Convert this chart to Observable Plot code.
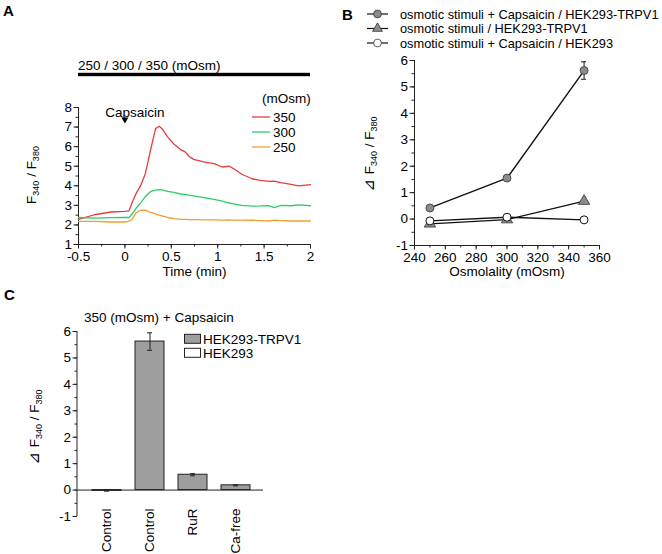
<!DOCTYPE html>
<html><head><meta charset="utf-8">
<script src="https://cdn.jsdelivr.net/npm/d3@7"></script>
<script src="https://cdn.jsdelivr.net/npm/@observablehq/plot@0.6"></script>
<style>
body{margin:0;background:#fff;}
#fig{position:relative;width:662px;height:554px;font-family:"Liberation Sans",Arial,"DejaVu Sans",sans-serif;}
</style></head><body><div id="fig"></div>
<script>
// ---------- Panel A data: F340/F380 time course ----------
const timeA = [-0.5,-0.33,-0.15,0,0.045,0.08,0.12,0.17,0.22,0.28,0.33,0.37,0.40,0.46,0.53,0.60,0.65,0.69,0.74,0.85,0.96,1.05,1.12,1.17,1.26,1.37,1.46,1.55,1.61,1.68,1.79,1.87,2.0];
const ratio350 = [2.28,2.52,2.66,2.69,2.72,3.17,3.6,4.02,4.62,5.9,6.92,7.04,6.92,6.5,6.12,5.85,5.73,5.51,5.35,5.22,5.13,4.96,5.01,4.88,4.59,4.36,4.28,4.23,4.24,4.16,4.07,4.0,4.06];
const ratio300 = [2.38,2.35,2.37,2.38,2.38,2.57,2.85,3.13,3.45,3.72,3.78,3.80,3.79,3.72,3.66,3.58,3.56,3.52,3.48,3.40,3.30,3.22,3.12,3.08,3.0,2.96,2.97,2.99,2.88,3.0,2.98,3.02,2.98];
const ratio250 = [2.18,2.18,2.15,2.15,2.18,2.31,2.62,2.75,2.76,2.64,2.57,2.5,2.46,2.38,2.32,2.28,2.28,2.27,2.27,2.26,2.26,2.25,2.26,2.25,2.25,2.24,2.22,2.2,2.24,2.22,2.2,2.21,2.2];
const seriesA = ["350","300","250"];
const colorsA = ["#e53d3d","#2ecc66","#f0a030"];
const xDomA = [-0.5, 2];
const yDomA = [1, 8];
const stimTime = 0;
const stimLabel = "Capsaicin";
const titleA = "250 / 300 / 350 (mOsm)";

// ---------- Panel B data ----------
const osmB = [250, 300, 350];
const capTRPV1 = [0.42, 1.55, 5.62];
const capTRPV1Err = [0.04, 0.05, 0.33];
const osmOnlyTRPV1 = [-0.18, -0.02, 0.68];
const capHEK = [-0.07, 0.07, -0.03];
const legendB = ["osmotic stimuli + Capsaicin / HEK293-TRPV1", "osmotic stimuli / HEK293-TRPV1", "osmotic stimuli + Capsaicin / HEK293"];
const xDomB = [240, 360];
const yDomB = [-1, 6];

// ---------- Panel C data ----------
const condC = ["Control", "Control", "RuR", "Ca-free"];
const cellC = ["HEK293", "HEK293-TRPV1", "HEK293-TRPV1", "HEK293-TRPV1"];
const valC = [-0.03, 5.62, 0.58, 0.18];
const errC = [0.01, 0.33, 0.04, 0.02];
const cellTypes = ["HEK293-TRPV1", "HEK293"];
const cellFills = ["#9e9e9e", "#ffffff"];
const yDomC = [-1, 6];
const titleC = "350 (mOsm) + Capsaicin";

const FONT = "'Liberation Sans', Arial, 'DejaVu Sans', sans-serif";
const baseStyle = {fontFamily: FONT, fontSize: "13px", color: "#000", background: "transparent", overflow: "visible"};
const TICKFS = 13.5;
const fig = document.getElementById("fig");
const fmt = d => String(+d.toFixed(2));

function place(svg, left, top) {
  svg.style.position = "absolute";
  svg.style.left = left + "px";
  svg.style.top = top + "px";
  fig.appendChild(svg);
  return d3.select(svg).append("g").attr("text-anchor", "start").attr("font-size", 13).attr("fill", "#000");
}
function yLabel(sel, x, y) {
  return sel.append("text").attr("transform", `translate(${x},${y}) rotate(-90)`)
    .attr("text-anchor", "middle").attr("font-size", 13.5).attr("fill", "#000");
}
function addRatioLabel(t, delta) {
  if (delta) t.append("tspan").attr("font-family", "'DejaVu Sans', sans-serif").attr("font-style","italic").attr("font-size", 15).text("⊿ ");
  t.append("tspan").text("F");
  t.append("tspan").attr("font-size", 9).attr("dy", 3).text("340");
  t.append("tspan").attr("dy", -3).text(" / F");
  t.append("tspan").attr("font-size", 9).attr("dy", 3).text("380");
}
function letter(sel, x, y, s) {
  sel.append("text").attr("x", x).attr("y", y).attr("font-size", 15).attr("font-weight", "bold").attr("text-anchor", "start").text(s);
}
function txt(sel, x, y, s) {
  return sel.append("text").attr("x", x).attr("y", y).attr("text-anchor", "start").attr("font-size", 13).text(s);
}

// ================= Panel A =================
const dataA = timeA.flatMap((t, i) => [
  {t, v: ratio350[i], s: seriesA[0]},
  {t, v: ratio300[i], s: seriesA[1]},
  {t, v: ratio250[i], s: seriesA[2]}
]);
const plotA = Plot.plot({
  width: 330, height: 280, marginLeft: 78, marginRight: 20, marginTop: 107, marginBottom: 36,
  style: baseStyle,
  x: {domain: xDomA},
  y: {domain: yDomA},
  color: {domain: seriesA, range: colorsA},
  marks: [
    Plot.axisX({ticks: d3.range(-0.5, 2.01, 0.25), tickSize: 2.5, tickFormat: () => "", label: null, stroke: "#222"}),
    Plot.axisX({ticks: d3.range(-0.5, 2.01, 0.5), tickSize: 4.5, tickPadding: 2, tickFormat: fmt, label: null, stroke: "#222", fontSize: TICKFS}),
    Plot.axisY({ticks: d3.range(1, 8.01, 0.5), tickSize: 2.5, tickFormat: () => "", label: null, stroke: "#222"}),
    Plot.axisY({ticks: d3.range(1, 9), tickSize: 4.5, tickPadding: 2, tickFormat: fmt, label: null, stroke: "#222", fontSize: TICKFS}),
    Plot.ruleX([xDomA[0]], {stroke: "#222"}),
    Plot.ruleY([yDomA[0]], {stroke: "#222"}),
    Plot.line(dataA, {x: "t", y: "v", stroke: "s", z: "s", strokeWidth: 1.3}),
    Plot.text([stimTime], {x: d => d, frameAnchor: "top", text: () => stimLabel, dx: 10, fontSize: 13.5}),
    Plot.dot([stimTime], {x: d => d, frameAnchor: "top", dy: 12, symbol: "triangle", rotate: 180, r: 2.6, fill: "#000", stroke: "none"}),
    Plot.text(["Time (min)"], {frameAnchor: "bottom", text: d => d, dy: 31, fontSize: 13.5})
  ]
});
const sA = place(plotA, 0, 0);
letter(sA, 3, 16, "A");
txt(sA, 78, 69.5, titleA).attr("font-size", 13.5);
sA.append("rect").attr("x", 78).attr("y", 72.8).attr("width", 232).attr("height", 3.4).attr("fill", "#000");
txt(sA, 262, 102.5, "(mOsm)").attr("font-size", 13.5);
seriesA.forEach((s, i) => {
  const cy = 117 + i * 15;
  sA.append("line").attr("x1", 252).attr("x2", 270).attr("y1", cy).attr("y2", cy).attr("stroke", colorsA[i]).attr("stroke-width", 1.3);
  txt(sA, 273, cy + 4.8, s).attr("font-size", 13.5);
});
addRatioLabel(yLabel(sA, 36, 175), false);

// ================= Panel B =================
const capData = osmB.map((o, i) => ({o, v: capTRPV1[i], e: capTRPV1Err[i]}));
const osmData = osmB.map((o, i) => ({o, v: osmOnlyTRPV1[i]}));
const hekData = osmB.map((o, i) => ({o, v: capHEK[i]}));
const GRAY = "#8c8c8c";
const plotB = Plot.plot({
  width: 332, height: 280, marginLeft: 84, marginRight: 63, marginTop: 60, marginBottom: 35,
  style: baseStyle,
  x: {domain: xDomB},
  y: {domain: yDomB},
  marks: [
    Plot.axisX({ticks: d3.range(240, 361, 10), tickSize: 2.5, tickFormat: () => "", label: null, stroke: "#222"}),
    Plot.axisX({ticks: d3.range(240, 361, 20), tickSize: 4.5, tickPadding: 2, tickFormat: fmt, label: null, stroke: "#222", fontSize: TICKFS}),
    Plot.axisY({ticks: d3.range(-1, 6.01, 0.5), tickSize: 2.5, tickFormat: () => "", label: null, stroke: "#222"}),
    Plot.axisY({ticks: d3.range(-1, 7), tickSize: 4.5, tickPadding: 2, tickFormat: fmt, label: null, stroke: "#222", fontSize: TICKFS}),
    Plot.ruleX([xDomB[0]], {stroke: "#222"}),
    Plot.ruleY([yDomB[0]], {stroke: "#222"}),
    Plot.line(hekData, {x: "o", y: "v", stroke: "#111", strokeWidth: 1.4}),
    Plot.line(osmData, {x: "o", y: "v", stroke: "#111", strokeWidth: 1.4}),
    Plot.line(capData, {x: "o", y: "v", stroke: "#111", strokeWidth: 1.4}),
    Plot.ruleX(capData, {x: "o", y1: d => d.v - d.e, y2: d => d.v + d.e, stroke: "#111"}),
    Plot.ruleY(capData, {y: d => d.v + d.e, x1: d => d.o - 1.6, x2: d => d.o + 1.6, stroke: "#111"}),
    Plot.ruleY(capData, {y: d => d.v - d.e, x1: d => d.o - 1.6, x2: d => d.o + 1.6, stroke: "#111"}),
    Plot.dot(osmData, {x: "o", y: "v", symbol: "triangle", r: 4.2, fill: GRAY, stroke: "#333", strokeWidth: 0.8}),
    Plot.dot(capData, {x: "o", y: "v", symbol: "circle", r: 4, fill: GRAY, stroke: "#333", strokeWidth: 0.8}),
    Plot.dot(hekData, {x: "o", y: "v", symbol: "circle", r: 4, fill: "#fff", stroke: "#111", strokeWidth: 1}),
    Plot.text(["Osmolality (mOsm)"], {frameAnchor: "bottom", text: d => d, dy: 30, fontSize: 13.5})
  ]
});
const sB = place(plotB, 330, 0);
letter(sB, 12, 20, "B");
const legSym = [
  {type: d3.symbolCircle, size: 48, fill: GRAY},
  {type: d3.symbolTriangle, size: 42, fill: GRAY},
  {type: d3.symbolCircle, size: 48, fill: "#fff"}
];
legendB.forEach((s, i) => {
  const cy = 14 + i * 14.5;
  sB.append("line").attr("x1", 37).attr("x2", 58).attr("y1", cy).attr("y2", cy).attr("stroke", "#111").attr("stroke-width", 1.2);
  sB.append("path").attr("d", d3.symbol().type(legSym[i].type).size(legSym[i].size)())
    .attr("transform", `translate(47.5,${cy})`).attr("fill", legSym[i].fill).attr("stroke", "#333").attr("stroke-width", 0.8);
  txt(sB, 70, cy + 4.6, s).attr("font-size", 12.8);
});
addRatioLabel(yLabel(sB, 44, 154), true);

// ================= Panel C =================
const idxC = condC.map((_, i) => i);
const dataC = idxC.map(i => ({i, cond: condC[i], cell: cellC[i], v: valC[i], e: errC[i]}));
const plotC = Plot.plot({
  width: 330, height: 274, marginLeft: 77, marginRight: 67, marginTop: 51, marginBottom: 38,
  style: baseStyle,
  x: {type: "band", domain: idxC, paddingInner: 0.33, paddingOuter: 0.165, insetLeft: 7.5, insetRight: 6.5},
  y: {domain: yDomC},
  color: {domain: cellTypes, range: cellFills},
  marks: [
    Plot.axisY({ticks: d3.range(-1, 6.01, 0.5), tickSize: 2.5, tickFormat: () => "", label: null, stroke: "#222"}),
    Plot.axisY({ticks: d3.range(-1, 7), tickSize: 4.5, tickPadding: 2, tickFormat: fmt, label: null, stroke: "#222", fontSize: TICKFS}),
    Plot.axisX({tickSize: 0, tickPadding: -8, tickRotate: -90, tickFormat: i => condC[i], label: null, fontSize: TICKFS}),
    Plot.barY(dataC, {x: "i", y: "v", fill: "cell", stroke: "#222", strokeWidth: 1}),
    Plot.ruleY([0], {stroke: "#222"}),
    Plot.ruleX(dataC, {x: "i", y1: d => d.v - d.e, y2: d => d.v + d.e, stroke: "#222"}),
    Plot.tickY(dataC, {x: "i", y: d => d.v + d.e, insetLeft: 12, insetRight: 12, stroke: "#222"}),
    Plot.tickY(dataC, {x: "i", y: d => d.v - d.e, insetLeft: 12, insetRight: 12, stroke: "#222"})
  ]
});
const sC = place(plotC, 0, 280);
sC.append("line").attr("x1", 77).attr("x2", 77).attr("y1", 51).attr("y2", 236).attr("stroke", "#222");
letter(sC, 4, 20, "C");
txt(sC, 84, 42.3, titleC).attr("font-size", 13.5);
cellTypes.forEach((c, i) => {
  const cy = 58.8 + i * 14;
  sC.append("rect").attr("x", 184.5).attr("y", cy - 4.5).attr("width", 16).attr("height", 9).attr("fill", cellFills[i]).attr("stroke", "#222");
  txt(sC, 203, cy + 4.8, c).attr("font-size", 13.5);
});
addRatioLabel(yLabel(sC, 39, 147), true);
</script></body></html>
